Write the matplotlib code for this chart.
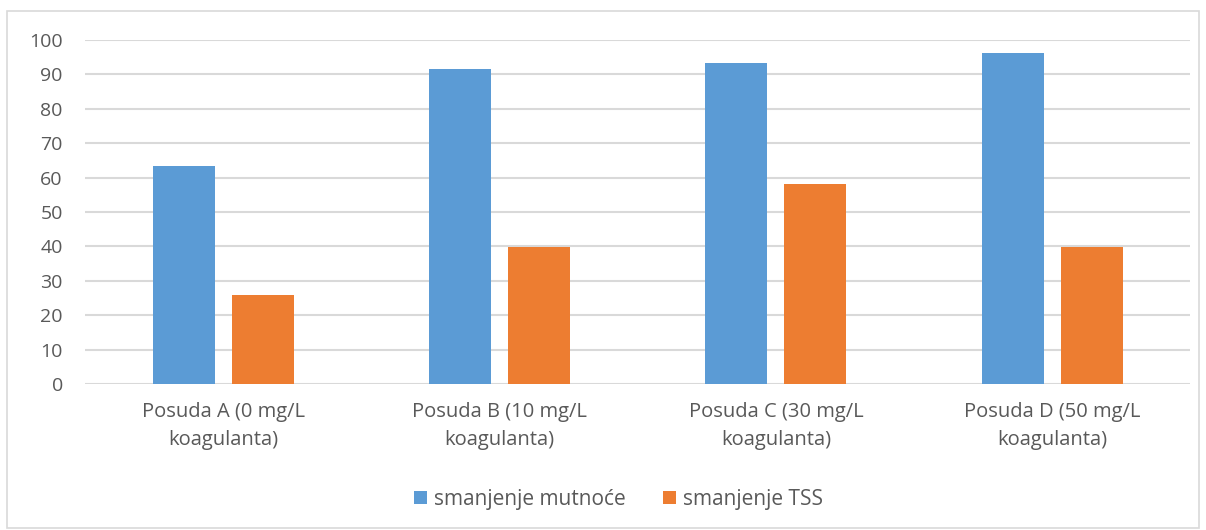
import matplotlib.pyplot as plt
import numpy as np
from matplotlib.patches import Rectangle

categories = ['Posuda A (0 mg/L\nkoagulanta)', 'Posuda B (10 mg/L\nkoagulanta)',
              'Posuda C (30 mg/L\nkoagulanta)', 'Posuda D (50 mg/L\nkoagulanta)']
mutnoca = [63.4, 91.5, 93.4, 96.3]
tss = [25.9, 39.8, 58.0, 39.8]
series_names = ['smanjenje mutnoće', 'smanjenje TSS']

blue = '#5b9bd5'
orange = '#ed7d31'
text_gray = '#595959'

plt.rcParams['font.family'] = ['Open Sans', 'DejaVu Sans']

fig = plt.figure(figsize=(12.06, 5.30), dpi=100)
ax = fig.add_axes([0.0705, 0.2755, 0.9165, 0.649])

x = np.arange(len(categories))
w = 0.225
ax.bar(x - 0.143, mutnoca, w, color=blue, label=series_names[0], zorder=3)
ax.bar(x + 0.143, tss, w, color=orange, label=series_names[1], zorder=3)

ax.set_xlim(-0.5, len(categories) - 0.5)
ax.set_ylim(0, 100)
ax.set_yticks(range(0, 101, 10))
ax.yaxis.grid(True, color='#d9d9d9', linewidth=1.5, zorder=0)
for s in ax.spines.values():
    s.set_visible(False)
ax.tick_params(axis='both', length=0, labelcolor=text_gray)
ax.tick_params(axis='y', pad=16, labelsize=14)
ax.tick_params(axis='x', pad=13, labelsize=14.5)
ax.set_xticks(x)
ax.set_xticklabels(categories, linespacing=1.55)

fig.legend(loc='center', bbox_to_anchor=(0.513, 0.058), ncol=2, frameon=False,
           fontsize=15, labelcolor=text_gray, handlelength=0.6, handleheight=0.6,
           handletextpad=0.35, columnspacing=1.8)

fig.patches.append(Rectangle((0.006, 0.004), 0.988, 0.975, transform=fig.transFigure,
                             fill=False, edgecolor='#d9d9d9', linewidth=1.2))

fig.savefig('out.png', dpi=100)
